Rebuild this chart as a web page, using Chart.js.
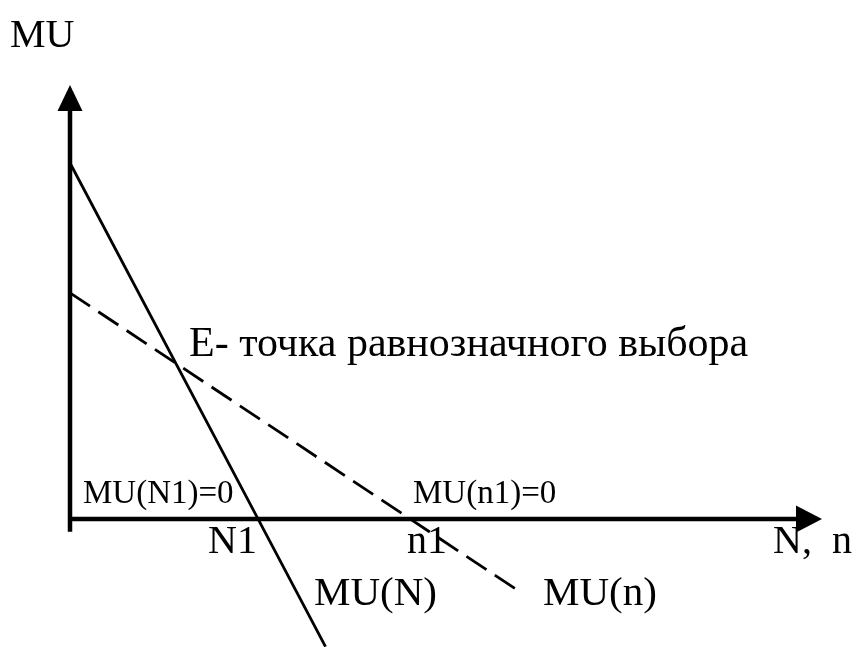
<!DOCTYPE html>
<html>
<head>
<meta charset="utf-8">
<script src="https://cdn.jsdelivr.net/npm/chart.js@4/dist/chart.umd.min.js"></script>
<style>
  html, body { margin: 0; padding: 0; background: #fff; }
  #grafik { display: block; }
</style>
</head>
<body>
<canvas id="grafik" width="856" height="647"></canvas>
<script>
// кривые предельной полезности: MU(N) и MU(n)
const kolN = [0, 3.76, 5.11];
const muN = [10, 0, -3.59];
const kolDn = [0, 6.8, 9];
const muDn = [6.35, 0, -2.05];

// концы осей (в единицах графика)
const osXkonec = 15.04;
const osYkonec = 12.19;
const osYniz = -0.36;

const podpisi = {
  osY: 'MU',
  osX: 'N,  n',
  tochkaE: 'E- точка равнозначного выбора',
  nolN: 'MU(N1)=0',
  nolDn: 'MU(n1)=0',
  N1: 'N1',
  n1: 'n1',
  krivN: 'MU(N)',
  krivDn: 'MU(n)'
};

const tochki = (xs, ys) => xs.map((x, i) => ({ x: x, y: ys[i] }));

const SHRIFT = '"Liberation Serif", "Times New Roman", serif';

// оси со стрелками и надписи
const osiPlugin = {
  id: 'osi',
  beforeDatasetsDraw(chart) {
    const ctx = chart.ctx;
    const sx = chart.scales.x, sy = chart.scales.y;
    const ox = sx.getPixelForValue(0), oy = sy.getPixelForValue(0);
    const xEnd = sx.getPixelForValue(osXkonec);
    const yEnd = sy.getPixelForValue(osYkonec);
    ctx.save();
    ctx.strokeStyle = '#000';
    ctx.fillStyle = '#000';
    ctx.lineWidth = 4.5;
    ctx.lineCap = 'butt';
    // ось Y
    ctx.beginPath();
    ctx.moveTo(ox, sy.getPixelForValue(osYniz));
    ctx.lineTo(ox, yEnd + 24);
    ctx.stroke();
    // ось X
    ctx.beginPath();
    ctx.moveTo(ox - 2, oy);
    ctx.lineTo(xEnd - 24, oy);
    ctx.stroke();
    // стрелки
    ctx.beginPath();
    ctx.moveTo(ox, yEnd);
    ctx.lineTo(ox - 12.5, yEnd + 26);
    ctx.lineTo(ox + 12.5, yEnd + 26);
    ctx.closePath();
    ctx.fill();
    ctx.beginPath();
    ctx.moveTo(xEnd, oy);
    ctx.lineTo(xEnd - 26, oy - 13.5);
    ctx.lineTo(xEnd - 26, oy + 13.5);
    ctx.closePath();
    ctx.fill();
    ctx.restore();
  },
  afterDatasetsDraw(chart) {
    const ctx = chart.ctx;
    const sx = chart.scales.x, sy = chart.scales.y;
    const ox = sx.getPixelForValue(0), oy = sy.getPixelForValue(0);
    ctx.save();
    ctx.fillStyle = '#000';
    ctx.textAlign = 'left';
    ctx.textBaseline = 'alphabetic';
    const txt = (s, x, y, size) => {
      ctx.font = size + 'px ' + SHRIFT;
      ctx.fillText(s, x, y);
    };
    txt(podpisi.osY, ox - 60, oy - 472, 40);
    txt(podpisi.tochkaE, ox + 119, oy - 163, 42);
    txt(podpisi.nolN, ox + 13, oy - 16, 33);
    txt(podpisi.nolDn, ox + 343, oy - 16, 33);
    txt(podpisi.N1, ox + 138, oy + 34, 40);
    txt(podpisi.n1, ox + 337, oy + 34, 40);
    txt(podpisi.osX, ox + 703, oy + 34, 40);
    txt(podpisi.krivN, ox + 244, oy + 86, 41);
    txt(podpisi.krivDn, ox + 473, oy + 86, 41);
    ctx.restore();
  }
};

new Chart(document.getElementById('grafik'), {
  type: 'scatter',
  data: {
    datasets: [
      {
        label: 'MU(N)',
        data: tochki(kolN, muN),
        showLine: true,
        borderColor: '#000',
        borderWidth: 2.8,
        pointRadius: 0
      },
      {
        label: 'MU(n)',
        data: tochki(kolDn, muDn),
        showLine: true,
        borderColor: '#000',
        borderWidth: 2.8,
        borderDash: [24, 10],
        pointRadius: 0
      }
    ]
  },
  options: {
    responsive: false,
    animation: false,
    layout: { padding: 0 },
    plugins: {
      legend: { display: false },
      tooltip: { enabled: false }
    },
    scales: {
      x: { type: 'linear', min: -1.4, max: 15.72, display: false },
      y: { type: 'linear', min: -3.6, max: 14.58, display: false }
    }
  },
  plugins: [osiPlugin]
});
</script>
</body>
</html>
